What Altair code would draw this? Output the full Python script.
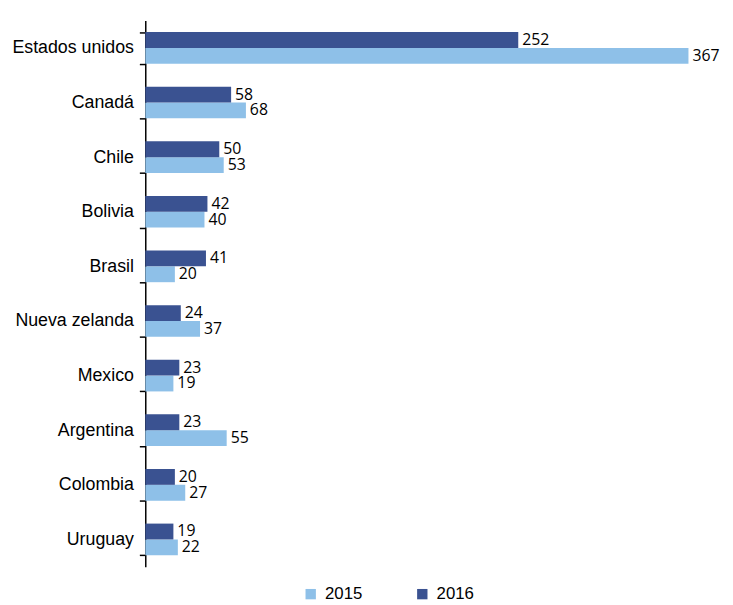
import altair as alt
import pandas as pd

paises = ["Estados unidos", "Canadá", "Chile", "Bolivia", "Brasil",
          "Nueva zelanda", "Mexico", "Argentina", "Colombia", "Uruguay"]
v2016 = [252, 58, 50, 42, 41, 24, 23, 23, 20, 19]
v2015 = [367, 68, 53, 40, 20, 37, 19, 55, 27, 22]

rows = []
for p, a, b in zip(paises, v2015, v2016):
    rows.append({"pais": p, "anio": "2015", "valor": a})
    rows.append({"pais": p, "anio": "2016", "valor": b})
df = pd.DataFrame(rows)

y = alt.Y("pais:N", sort=paises, title=None,
          scale=alt.Scale(paddingInner=0.42, paddingOuter=0.21),
          axis=alt.Axis(tickBand="extent", labelFont="Liberation Sans", labelFontSize=18,
                        labelColor="black", domainColor="black", tickColor="black",
                        tickSize=6, labelPadding=6, domainWidth=1.5, tickWidth=1.5))
yoff = alt.YOffset("anio:N", sort=["2016", "2015"])
x = alt.X("valor:Q", axis=None, scale=alt.Scale(domain=[0, 367], nice=False))

bars = alt.Chart(df).mark_bar().encode(
    y=y, yOffset=yoff, x=x,
    color=alt.Color("anio:N", title=None,
                    scale=alt.Scale(domain=["2015", "2016"], range=["#8EC0E8", "#3A5291"]),
                    legend=alt.Legend(orient="none", direction="horizontal", legendX=159,
                                      legendY=572, symbolType="square", symbolSize=110,
                                      labelFont="Liberation Sans", labelFontSize=17,
                                      columnPadding=52, labelOffset=6))
)
text = alt.Chart(df).mark_text(align="left", baseline="middle", dx=4, font="Open Sans",
                               fontSize=16, color="black").encode(
    y=y, yOffset=yoff, x=x, text="valor:Q"
)

chart = (bars + text).properties(width=550, height=553, padding={"left": 3, "top": 0, "right": 5, "bottom": 0}).configure_view(stroke=None)
chart.save("out.html", embed_options={"renderer": "svg", "actions": False})
